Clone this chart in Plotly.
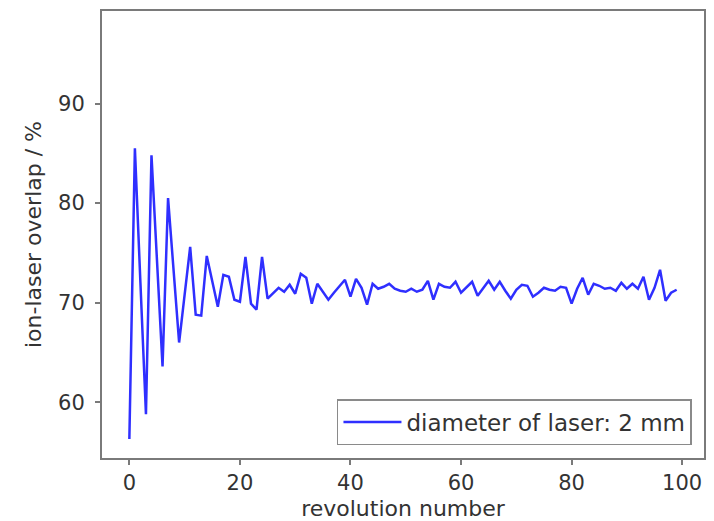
import plotly.graph_objects as go

revolution = list(range(100))
overlap = [
    56.3, 85.5, 72.0, 58.8, 84.8, 74.0, 63.6, 80.5, 73.0, 66.0,
    70.8, 75.6, 68.8, 68.7, 74.7, 72.0, 69.6, 72.8, 72.6, 70.3,
    70.1, 74.6, 69.9, 69.3, 74.6, 70.4, 70.9, 71.5, 71.1, 71.8,
    70.9, 72.9, 72.5, 69.9, 71.9, 71.1, 70.3, 71.0, 71.7, 72.3,
    70.6, 72.4, 71.5, 69.8, 71.9, 71.4, 71.6, 71.9, 71.4, 71.2,
    71.1, 71.4, 71.1, 71.3, 72.2, 70.3, 71.9, 71.6, 71.5, 72.1,
    71.0, 71.6, 72.1, 70.7, 71.5, 72.2, 71.3, 72.1, 71.2, 70.4,
    71.3, 71.8, 71.7, 70.6, 71.0, 71.5, 71.3, 71.2, 71.6, 71.5,
    69.9, 71.4, 72.5, 70.8, 71.9, 71.7, 71.4, 71.5, 71.2, 72.0,
    71.4, 71.9, 71.4, 72.6, 70.3, 71.5, 73.3, 70.2, 71.0, 71.3,
]
x_ticks = [0, 20, 40, 60, 80, 100]
y_ticks = [60, 70, 80, 90]
series_name = "diameter of laser: 2 mm"

FONT = "DejaVu Sans"
TXT = "#333333"
AX = "#7a7a7a"

fig = go.Figure()
fig.add_trace(go.Scatter(
    x=revolution, y=overlap, mode="lines", name=series_name,
    line=dict(color="#2f2fff", width=2.5),
))

axis_common = dict(
    showline=True, linecolor=AX, linewidth=2, mirror=True,
    ticks="outside", ticklen=5, tickwidth=1.5, tickcolor=AX,
    showgrid=False, zeroline=False, automargin=False,
    tickfont=dict(family=FONT, size=21, color=TXT),
)

fig.update_layout(
    width=714, height=521,
    margin=dict(l=102, r=10, t=11, b=63),
    paper_bgcolor="white", plot_bgcolor="white",
    font=dict(family=FONT, size=21, color=TXT),
    xaxis=dict(
        range=[-4.95, 103.95], tickvals=x_ticks,
        title=dict(text="revolution number", standoff=16,
                   font=dict(family=FONT, size=22, color=TXT)),
        **axis_common,
    ),
    yaxis=dict(
        range=[54.4, 99.3], tickvals=y_ticks, ticklabelstandoff=6,
        title=dict(text="ion-laser overlap / %", standoff=10,
                   font=dict(family=FONT, size=22, color=TXT)),
        **axis_common,
    ),
    showlegend=True,
    legend=dict(
        x=0.98, y=0.029, xanchor="right", yanchor="bottom",
        bgcolor="white", bordercolor="#8a8a8a", borderwidth=1.5,
        font=dict(family=FONT, size=23, color=TXT),
        itemwidth=58,
    ),
)

fig.write_html("out.html")
